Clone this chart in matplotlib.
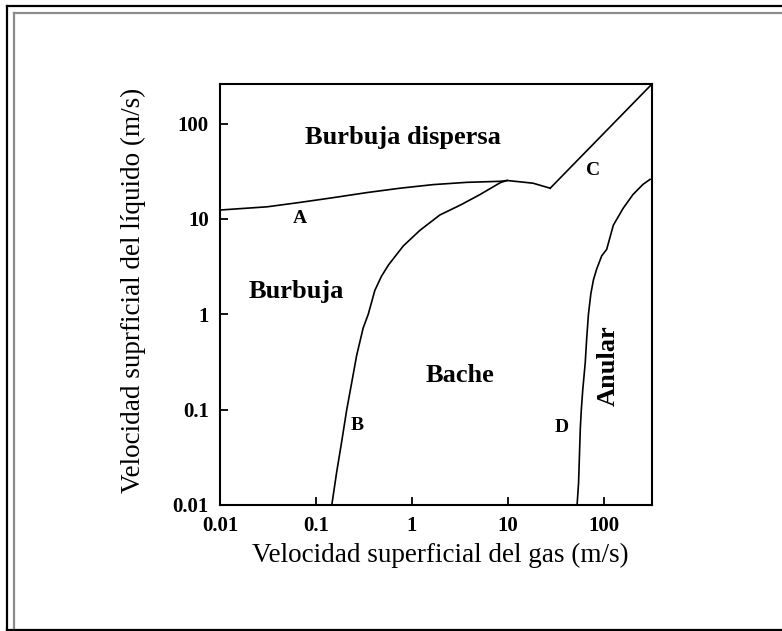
import matplotlib
matplotlib.use('Agg')
import matplotlib.pyplot as plt
from matplotlib.lines import Line2D

plt.rcParams['font.family'] = ['Liberation Serif', 'DejaVu Serif']

# frontera A: burbuja dispersa / burbuja-bache
a_x = [0.01, 0.031, 0.068, 0.15, 0.34, 0.75, 1.66, 3.74, 8.3, 9.8, 18.2, 27.5]
a_y = [12.4, 13.4, 14.9, 16.7, 18.9, 21.0, 22.9, 24.2, 24.8, 25.3, 23.7, 21.0]

# frontera C: burbuja dispersa / anular
c_x = [27.5, 316]
c_y = [21.0, 260]

# frontera B: burbuja / bache
b_x = [0.146, 0.164, 0.185, 0.209, 0.235, 0.265, 0.31, 0.35, 0.41, 0.48,
       0.57, 0.81, 1.21, 1.95, 3.2, 5.1, 8.3, 9.8]
b_y = [0.01, 0.022, 0.046, 0.1, 0.19, 0.37, 0.72, 1.0, 1.78, 2.5,
       3.3, 5.2, 7.6, 11.0, 14.0, 18.0, 24.0, 25.3]

# frontera D: bache / anular
d_x = [52.4, 54.3, 56.6, 58.0, 60.0, 63.7, 66.0, 68.8, 72.9, 77.6, 84.0,
       94.6, 106.6, 125, 158, 200, 254, 302]
d_y = [0.01, 0.017, 0.063, 0.1, 0.16, 0.31, 0.56, 1.0, 1.64, 2.3, 3.0,
       4.1, 4.8, 8.6, 12.9, 18.0, 23.0, 26.0]

ticks = [0.01, 0.1, 1, 10, 100]
tick_labels = ['0.01', '0.1', '1', '10', '100']

regions = [('Burbuja dispersa', 0.8, 71, 0),
           ('Burbuja', 0.063, 1.72, 0),
           ('Bache', 3.16, 0.226, 0),
           ('Anular', 110, 0.29, 90)]
letters = [('A', 0.068, 10), ('B', 0.27, 0.068), ('C', 77, 32), ('D', 36, 0.065)]

W, H = 782, 631
fig = plt.figure(figsize=(W / 100, H / 100), dpi=100)
ax = fig.add_axes([220 / W, 1 - 505 / H, 432 / W, 421 / H])

for xs, ys in [(a_x, a_y), (c_x, c_y), (b_x, b_y), (d_x, d_y)]:
    ax.plot(xs, ys, color='black', lw=1.2)

ax.set_xscale('log')
ax.set_yscale('log')
ax.set_xlim(0.01, 316)
ax.set_ylim(0.01, 260)
ax.set_xticks(ticks)
ax.set_xticklabels(tick_labels)
ax.set_yticks(ticks)
ax.set_yticklabels(tick_labels)
ax.minorticks_off()
ax.tick_params(direction='in', length=6, width=1.3, pad=8, labelsize=15)
for lab in ax.get_xticklabels() + ax.get_yticklabels():
    lab.set_fontweight('bold')
for sp in ax.spines.values():
    sp.set_linewidth(1.5)

for txt, x, y, rot in regions:
    ax.text(x, y, txt, ha='center', va='center', rotation=rot,
            fontsize=19, fontweight='bold')
for txt, x, y in letters:
    ax.text(x, y, txt, ha='center', va='center', fontsize=14, fontweight='bold')

fig.text(440 / W, 1 - 555 / H, 'Velocidad superficial del gas (m/s)',
         ha='center', va='center', fontsize=19.5)
fig.text(133 / W, 1 - 290 / H, 'Velocidad suprficial del líquido (m/s)',
         ha='center', va='center', rotation=90, fontsize=19.5)

# marco de la imagen
def px_line(x0, y0, x1, y1, color, lw):
    fig.add_artist(Line2D([x0 / W, x1 / W], [1 - y0 / H, 1 - y1 / H],
                          transform=fig.transFigure, color=color, lw=lw))

px_line(7, 6, W, 6, 'black', 1.6)
px_line(7, 6, 7, H, 'black', 1.6)
px_line(7, 629.5, W, 629.5, 'black', 1.6)
px_line(14, 13, W, 13, '#8c8c8c', 1.6)
px_line(14, 13, 14, 628, '#8c8c8c', 1.6)

fig.savefig('out.png', dpi=100)
